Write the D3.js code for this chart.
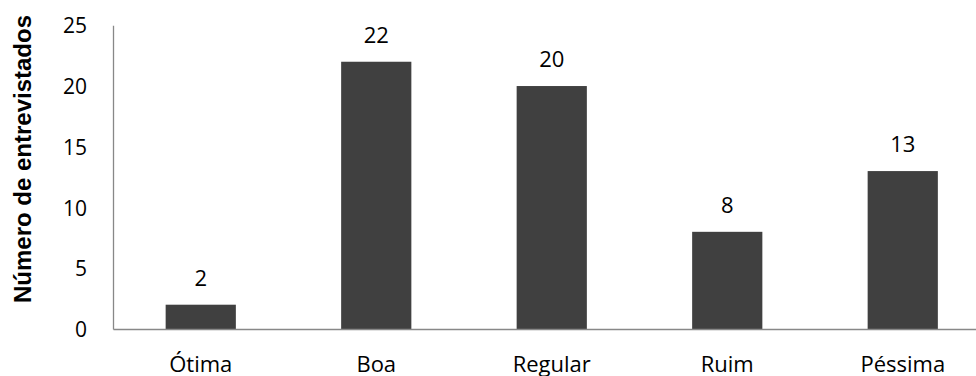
<!DOCTYPE html>
<html>
<head>
<meta charset="utf-8">
<script src="https://cdn.jsdelivr.net/npm/d3@7"></script>
<style>
  html, body { margin: 0; padding: 0; background: #fff; }
  svg { display: block; }
</style>
</head>
<body>
<svg id="chart" width="976" height="376"></svg>
<script>
// Avaliação dos entrevistados
const categories = ["Ótima", "Boa", "Regular", "Ruim", "Péssima"];
const values = [2, 22, 20, 8, 13];
const yTicks = [0, 5, 10, 15, 20, 25];
const yTitle = "Número de entrevistados";

const svg = d3.select("#chart");
const plotLeft = 113, plotRight = 990.5, plotTop = 25.3, plotBottom = 329;
const labelFont = "'Open Sans', 'Noto Sans', sans-serif";

const x = d3.scaleBand()
  .domain(categories)
  .range([plotLeft, plotRight])
  .paddingInner(0.6)
  .paddingOuter(0.3);

const y = d3.scaleLinear()
  .domain([0, 25])
  .range([plotBottom, plotTop]);

// Bars
svg.append("g")
  .selectAll("rect")
  .data(values)
  .join("rect")
  .attr("x", (d, i) => x(categories[i]))
  .attr("y", d => y(d))
  .attr("width", x.bandwidth())
  .attr("height", d => y(0) - y(d))
  .attr("fill", "#404040");

// Value labels above bars
svg.append("g")
  .selectAll("text")
  .data(values)
  .join("text")
  .attr("x", (d, i) => x(categories[i]) + x.bandwidth() / 2)
  .attr("y", d => y(d) - 19)
  .attr("text-anchor", "middle")
  .attr("font-family", labelFont)
  .attr("font-size", 22)
  .attr("fill", "#000")
  .text(d => d);

// Y axis (line only, no tick marks)
const yAxis = d3.axisLeft(y)
  .tickValues(yTicks)
  .tickSize(0)
  .tickPadding(26);
const gy = svg.append("g")
  .attr("transform", `translate(${plotLeft},0)`)
  .call(yAxis);
gy.select(".domain").attr("stroke", "#888").attr("stroke-width", 1.3);
gy.selectAll("text")
  .attr("font-family", labelFont)
  .attr("font-size", 21)
  .attr("fill", "#000")
  .attr("dy", "0.36em");

// X axis
const xAxis = d3.axisBottom(x).tickSize(0).tickPadding(27.5);
const gx = svg.append("g")
  .attr("transform", `translate(0,${plotBottom})`)
  .call(xAxis);
gx.select(".domain").attr("stroke", "#888").attr("stroke-width", 1.3);
gx.selectAll("text")
  .attr("font-family", labelFont)
  .attr("font-size", 22)
  .attr("fill", "#000");

// Y axis title
svg.append("text")
  .attr("transform", `translate(31,${(15 + 303) / 2}) rotate(-90)`)
  .attr("text-anchor", "middle")
  .attr("font-family", "'Liberation Sans', Arial, sans-serif")
  .attr("font-weight", "bold")
  .attr("font-size", 24)
  .attr("fill", "#000")
  .text(yTitle);
</script>
</body>
</html>
